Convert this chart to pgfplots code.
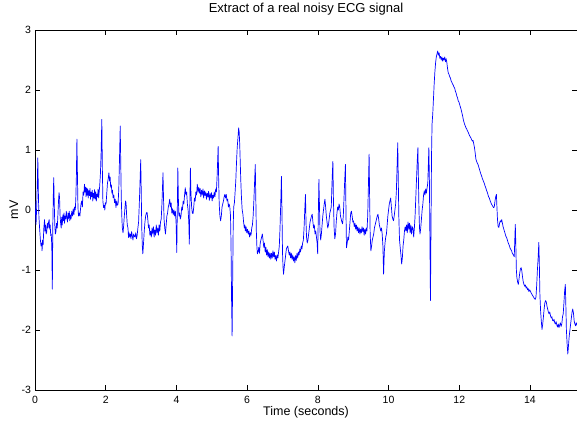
\documentclass[border=0pt]{standalone}
\usepackage{pgfplots}
\usepackage{pgfplotstable}
\pgfplotsset{compat=1.18}
\usepackage{fontspec}
\setmainfont{Liberation Sans}
\pgfplotstableread{
t y
0.000 0.15
0.015 -0.05
0.030 -0.24
0.050 0.10
0.065 0.45
0.080 0.87
0.095 0.30
0.110 -0.10
0.130 -0.30
0.150 -0.48
0.170 -0.60
0.190 -0.55
0.200 -0.68
0.215 -0.50
0.230 -0.58
0.250 -0.30
0.270 -0.16
0.285 -0.35
0.300 -0.25
0.315 -0.40
0.330 -0.37
0.350 -0.22
0.370 -0.30
0.385 -0.20
0.400 -0.16
0.415 -0.32
0.430 -0.25
0.445 -0.43
0.460 -0.40
0.475 -0.60
0.490 -1.32
0.505 -0.20
0.520 0.30
0.530 0.54
0.545 0.10
0.560 -0.25
0.575 -0.40
0.590 -0.37
0.610 -0.22
0.630 -0.30
0.650 -0.05
0.665 0.15
0.680 0.29
0.695 0.20
0.710 -0.10
0.725 -0.22
0.740 -0.30
0.755 -0.12
0.770 -0.25
0.790 -0.08
0.805 -0.18
0.820 -0.05
0.835 -0.22
0.850 -0.10
0.870 -0.15
0.885 -0.02
0.900 -0.12
0.920 -0.20
0.935 -0.05
0.950 -0.14
0.970 -0.02
0.985 -0.18
1.000 -0.08
1.020 -0.15
1.040 -0.02
1.060 -0.10
1.080 0.02
1.100 -0.08
1.120 0.05
1.140 0.00
1.155 0.20
1.170 0.55
1.185 1.18
1.200 0.60
1.215 0.05
1.230 -0.10
1.250 -0.05
1.270 -0.10
1.285 0.00
1.300 0.10
1.320 0.15
1.340 0.05
1.360 0.30
1.380 0.25
1.400 0.43
1.415 0.30
1.430 0.38
1.445 0.22
1.460 0.37
1.475 0.25
1.490 0.35
1.505 0.20
1.520 0.32
1.540 0.24
1.555 0.36
1.570 0.18
1.585 0.30
1.600 0.22
1.620 0.33
1.635 0.15
1.650 0.28
1.670 0.20
1.685 0.34
1.700 0.18
1.720 0.30
1.735 0.15
1.750 0.26
1.770 0.22
1.785 0.35
1.800 0.20
1.815 0.30
1.830 0.40
1.850 0.60
1.870 0.95
1.890 1.51
1.905 0.70
1.920 0.15
1.940 0.04
1.960 0.08
1.975 0.00
1.990 0.12
2.010 0.10
2.030 0.28
2.050 0.45
2.070 0.52
2.090 0.62
2.110 0.48
2.125 0.55
2.140 0.38
2.160 0.42
2.175 0.28
2.190 0.33
2.210 0.20
2.230 0.25
2.250 0.12
2.270 0.18
2.290 0.04
2.310 0.15
2.330 0.08
2.350 0.10
2.370 0.35
2.390 0.85
2.410 1.40
2.425 0.80
2.440 0.20
2.455 -0.10
2.470 -0.30
2.490 -0.38
2.505 -0.28
2.520 -0.15
2.540 0.00
2.560 0.15
2.575 0.12
2.590 -0.07
2.610 -0.25
2.630 -0.30
2.645 -0.46
2.660 -0.38
2.680 -0.45
2.700 -0.40
2.715 -0.48
2.730 -0.36
2.750 -0.42
2.770 -0.50
2.790 -0.40
2.810 -0.44
2.830 -0.45
2.850 -0.38
2.870 -0.48
2.890 -0.42
2.910 -0.30
2.930 -0.20
2.950 0.10
2.970 0.45
2.990 0.84
3.005 0.30
3.020 -0.30
3.035 -0.60
3.050 -0.73
3.070 -0.55
3.090 -0.35
3.110 -0.20
3.130 -0.10
3.150 -0.05
3.170 -0.04
3.190 -0.15
3.210 -0.30
3.230 -0.25
3.250 -0.42
3.270 -0.35
3.290 -0.45
3.310 -0.30
3.330 -0.40
3.350 -0.28
3.370 -0.45
3.390 -0.33
3.410 -0.42
3.430 -0.25
3.450 -0.38
3.470 -0.30
3.490 -0.42
3.510 -0.25
3.530 -0.35
3.550 -0.20
3.570 -0.15
3.590 0.10
3.605 0.35
3.620 0.62
3.635 0.20
3.650 -0.15
3.670 -0.30
3.690 -0.40
3.710 -0.25
3.730 -0.10
3.750 -0.05
3.770 0.05
3.790 0.10
3.810 0.18
3.830 0.05
3.850 0.12
3.870 -0.05
3.890 0.02
3.910 -0.08
3.930 0.00
3.950 -0.10
3.970 -0.02
3.990 -0.20
4.010 -0.71
4.025 0.00
4.040 0.70
4.055 0.20
4.070 -0.10
4.090 -0.05
4.110 -0.15
4.130 -0.10
4.150 0.05
4.170 0.00
4.190 0.15
4.210 0.10
4.230 0.25
4.250 0.37
4.270 0.25
4.290 0.30
4.310 0.10
4.330 0.00
4.350 -0.20
4.365 -0.57
4.380 0.10
4.395 0.70
4.410 0.30
4.430 0.05
4.450 -0.05
4.470 -0.06
4.490 0.05
4.510 0.20
4.530 0.15
4.550 0.30
4.570 0.25
4.590 0.43
4.610 0.30
4.630 0.38
4.650 0.28
4.670 0.36
4.690 0.22
4.710 0.33
4.730 0.25
4.750 0.35
4.770 0.20
4.790 0.32
4.810 0.24
4.830 0.30
4.850 0.18
4.870 0.28
4.890 0.22
4.910 0.31
4.930 0.16
4.950 0.27
4.970 0.20
4.990 0.29
5.010 0.15
5.030 0.25
5.050 0.20
5.070 0.30
5.090 0.22
5.110 0.35
5.130 0.30
5.150 0.55
5.165 0.80
5.180 1.06
5.195 0.50
5.210 0.10
5.230 -0.10
5.250 -0.18
5.270 -0.10
5.290 0.05
5.310 0.10
5.330 0.15
5.350 0.22
5.370 0.26
5.390 0.20
5.410 0.26
5.430 0.15
5.450 0.18
5.470 0.05
5.490 0.10
5.510 0.05
5.530 -0.10
5.545 -0.60
5.560 -1.50
5.575 -2.10
5.590 -1.20
5.605 -0.30
5.620 0.05
5.640 0.12
5.660 0.30
5.680 0.50
5.700 0.80
5.720 1.05
5.740 1.20
5.760 1.37
5.775 1.30
5.790 1.10
5.805 0.80
5.820 0.50
5.840 0.20
5.860 0.00
5.880 -0.07
5.900 -0.20
5.920 -0.30
5.935 -0.25
5.950 -0.35
5.970 -0.28
5.990 -0.38
6.010 -0.32
6.030 -0.40
6.050 -0.35
6.070 -0.45
6.090 -0.38
6.110 -0.42
6.130 -0.30
6.150 -0.25
6.170 -0.10
6.190 0.15
6.210 0.45
6.230 0.76
6.245 0.20
6.260 -0.35
6.275 -0.60
6.290 -0.73
6.310 -0.70
6.330 -0.62
6.350 -0.72
6.370 -0.55
6.390 -0.50
6.410 -0.45
6.430 -0.40
6.450 -0.50
6.470 -0.62
6.490 -0.55
6.510 -0.70
6.530 -0.62
6.550 -0.75
6.570 -0.66
6.590 -0.78
6.610 -0.70
6.630 -0.80
6.650 -0.72
6.670 -0.82
6.690 -0.72
6.710 -0.80
6.730 -0.68
6.750 -0.78
6.770 -0.70
6.790 -0.82
6.810 -0.76
6.830 -0.85
6.850 -0.75
6.870 -0.80
6.890 -0.70
6.910 -0.60
6.930 -0.30
6.950 0.10
6.970 0.56
6.985 0.00
7.000 -0.70
7.015 -0.95
7.030 -1.07
7.050 -0.95
7.070 -0.85
7.090 -0.75
7.110 -0.65
7.130 -0.62
7.150 -0.60
7.170 -0.68
7.190 -0.75
7.210 -0.70
7.230 -0.80
7.250 -0.72
7.270 -0.82
7.290 -0.75
7.310 -0.85
7.330 -0.78
7.350 -0.88
7.370 -0.76
7.390 -0.84
7.410 -0.72
7.430 -0.80
7.450 -0.70
7.470 -0.75
7.490 -0.65
7.510 -0.70
7.530 -0.60
7.550 -0.65
7.570 -0.55
7.590 -0.50
7.610 -0.30
7.630 0.00
7.650 0.26
7.665 -0.20
7.680 -0.45
7.700 -0.55
7.720 -0.50
7.740 -0.40
7.760 -0.30
7.780 -0.20
7.800 -0.15
7.820 -0.10
7.840 -0.07
7.860 -0.20
7.880 -0.30
7.900 -0.25
7.920 -0.40
7.940 -0.35
7.960 -0.45
7.980 -0.55
7.995 -0.73
8.010 -0.20
8.030 0.51
8.045 0.10
8.060 -0.35
8.080 -0.50
8.100 -0.40
8.120 -0.25
8.140 -0.10
8.160 0.00
8.180 0.10
8.200 0.18
8.220 0.05
8.240 -0.10
8.260 -0.20
8.280 -0.30
8.300 -0.25
8.320 -0.15
8.340 -0.05
8.360 0.00
8.380 0.05
8.395 0.35
8.410 0.60
8.425 0.81
8.440 0.20
8.460 -0.30
8.480 -0.48
8.500 -0.40
8.520 -0.20
8.540 -0.05
8.560 0.05
8.580 0.00
8.600 0.10
8.620 0.05
8.640 -0.10
8.660 -0.15
8.680 -0.20
8.700 -0.23
8.720 -0.10
8.740 0.20
8.760 0.50
8.780 0.76
8.795 0.00
8.810 -0.63
8.830 -0.55
8.850 -0.45
8.870 -0.50
8.890 -0.35
8.910 -0.20
8.930 -0.05
8.950 -0.02
8.970 -0.10
8.990 -0.20
9.010 -0.18
9.030 -0.28
9.050 -0.22
9.070 -0.32
9.090 -0.25
9.110 -0.35
9.130 -0.28
9.150 -0.38
9.170 -0.30
9.190 -0.40
9.210 -0.32
9.230 -0.38
9.250 -0.28
9.270 -0.36
9.290 -0.30
9.310 -0.42
9.330 -0.32
9.350 -0.40
9.370 -0.30
9.390 -0.35
9.410 -0.10
9.430 0.40
9.450 0.93
9.465 0.20
9.480 -0.40
9.500 -0.68
9.520 -0.60
9.540 -0.50
9.560 -0.45
9.580 -0.40
9.600 -0.30
9.620 -0.25
9.640 -0.20
9.660 -0.15
9.680 -0.10
9.700 -0.07
9.720 -0.15
9.740 -0.25
9.760 -0.30
9.780 -0.35
9.800 -0.30
9.820 -0.40
9.840 -0.60
9.860 -1.07
9.880 -0.70
9.900 -0.55
9.920 -0.45
9.940 -0.40
9.960 -0.25
9.980 -0.10
10.000 0.00
10.020 0.10
10.040 0.15
10.060 0.20
10.080 0.05
10.100 -0.10
10.120 -0.15
10.140 -0.18
10.160 -0.10
10.180 0.00
10.200 0.10
10.220 0.30
10.240 0.70
10.260 1.12
10.275 0.50
10.290 -0.10
10.310 -0.50
10.330 -0.63
10.350 -0.75
10.370 -0.90
10.390 -0.80
10.410 -0.60
10.430 -0.50
10.450 -0.35
10.470 -0.28
10.490 -0.35
10.510 -0.25
10.530 -0.38
10.550 -0.20
10.570 -0.32
10.590 -0.22
10.610 -0.38
10.630 -0.25
10.650 -0.40
10.670 -0.28
10.690 -0.30
10.710 -0.45
10.730 -0.30
10.750 -0.10
10.770 0.20
10.790 0.50
10.810 0.80
10.830 1.04
10.845 0.50
10.860 0.00
10.875 -0.30
10.890 -0.40
10.910 -0.30
10.930 -0.15
10.950 0.00
10.970 0.10
10.990 0.25
11.010 0.32
11.030 0.25
11.050 0.35
11.070 0.28
11.090 0.37
11.110 0.45
11.125 0.75
11.140 1.04
11.155 0.50
11.170 -0.50
11.185 -1.51
11.200 -0.30
11.215 0.90
11.230 1.43
11.250 1.60
11.270 1.85
11.290 2.10
11.310 2.30
11.330 2.45
11.350 2.55
11.370 2.60
11.390 2.65
11.410 2.58
11.430 2.62
11.450 2.53
11.470 2.56
11.490 2.50
11.510 2.55
11.530 2.48
11.550 2.53
11.570 2.50
11.590 2.55
11.610 2.47
11.630 2.52
11.650 2.45
11.670 2.35
11.690 2.28
11.710 2.26
11.730 2.22
11.750 2.20
11.770 2.15
11.790 2.13
11.810 2.10
11.830 2.08
11.850 2.05
11.870 2.03
11.890 1.98
11.910 1.95
11.930 1.90
11.950 1.87
11.970 1.82
11.990 1.80
12.010 1.76
12.030 1.72
12.050 1.68
12.070 1.63
12.090 1.58
12.110 1.52
12.130 1.47
12.150 1.43
12.170 1.40
12.190 1.37
12.210 1.35
12.230 1.32
12.250 1.30
12.270 1.27
12.290 1.24
12.310 1.22
12.330 1.20
12.350 1.17
12.370 1.15
12.390 1.16
12.410 1.10
12.430 1.04
12.450 0.95
12.470 0.85
12.490 0.81
12.510 0.78
12.530 0.76
12.550 0.72
12.570 0.68
12.590 0.64
12.610 0.60
12.630 0.57
12.650 0.53
12.670 0.50
12.690 0.47
12.710 0.44
12.730 0.40
12.750 0.37
12.770 0.33
12.790 0.30
12.810 0.26
12.830 0.22
12.850 0.20
12.870 0.16
12.890 0.13
12.910 0.10
12.930 0.08
12.950 0.06
12.970 0.04
12.990 0.05
13.010 0.15
13.030 0.22
13.050 0.26
13.065 0.05
13.080 -0.15
13.100 -0.28
13.120 -0.29
13.140 -0.22
13.160 -0.18
13.180 -0.20
13.200 -0.16
13.220 -0.22
13.240 -0.28
13.260 -0.32
13.280 -0.36
13.300 -0.40
13.320 -0.44
13.340 -0.46
13.360 -0.50
13.380 -0.54
13.400 -0.57
13.420 -0.60
13.440 -0.64
13.460 -0.66
13.480 -0.68
13.500 -0.72
13.520 -0.74
13.540 -0.76
13.555 -0.78
13.570 -0.50
13.585 -0.24
13.600 -0.60
13.615 -1.00
13.630 -1.13
13.650 -1.20
13.670 -1.24
13.690 -1.15
13.710 -1.05
13.730 -0.98
13.750 -0.96
13.770 -1.02
13.790 -1.12
13.810 -1.20
13.830 -1.24
13.850 -1.27
13.870 -1.25
13.890 -1.30
13.910 -1.28
13.930 -1.33
13.950 -1.31
13.970 -1.36
13.990 -1.33
14.010 -1.35
14.030 -1.38
14.050 -1.40
14.070 -1.42
14.090 -1.44
14.110 -1.46
14.130 -1.48
14.150 -1.49
14.170 -1.45
14.190 -1.25
14.210 -1.00
14.230 -0.80
14.250 -0.54
14.265 -0.90
14.280 -1.40
14.300 -1.68
14.320 -1.85
14.340 -1.99
14.360 -1.90
14.380 -1.78
14.400 -1.65
14.420 -1.55
14.440 -1.51
14.460 -1.53
14.480 -1.60
14.500 -1.65
14.520 -1.70
14.540 -1.73
14.560 -1.70
14.580 -1.76
14.600 -1.80
14.620 -1.78
14.640 -1.84
14.660 -1.85
14.680 -1.82
14.700 -1.88
14.720 -1.90
14.740 -1.86
14.760 -1.92
14.780 -1.95
14.800 -1.90
14.820 -1.96
14.840 -1.92
14.860 -1.88
14.880 -1.94
14.900 -1.90
14.920 -1.78
14.940 -1.73
14.960 -1.55
14.980 -1.35
15.000 -1.24
15.015 -1.60
15.030 -2.00
15.050 -2.23
15.070 -2.40
15.090 -2.25
15.110 -2.10
15.130 -2.00
15.150 -1.90
15.170 -1.80
15.190 -1.70
15.210 -1.65
15.230 -1.72
15.250 -1.85
15.270 -1.90
15.290 -1.93
15.310 -1.88
15.330 -1.92
}\ecg
\begin{document}
\begin{tikzpicture}
\begin{axis}[
  name=ax,
  scale only axis,
  width=542pt, height=360pt,
  xmin=0, xmax=15.33, ymin=-3, ymax=3,
  xtick={0,2,4,6,8,10,12,14},
  xticklabels={0,2,4,6,8,10,12,14},
  ytick={-3,-2,-1,0,1,2,3},
  yticklabels={-3,-2,-1,0,1,2,3},
  tick align=inside,
  major tick length=5pt,
  tick style={black, line width=0.5pt},
  axis line style={black, line width=0.5pt},
  ticklabel style={font=\fontsize{10.5}{12}\selectfont},
  xticklabel style={anchor=base, yshift=-13pt},
  yticklabel style={anchor=east, xshift=-0.5pt},
  title={Extract of a real noisy ECG signal},
  title style={at={(0.5,1)}, anchor=base, yshift=12pt, font=\fontsize{13}{15}\selectfont},
  xlabel={Time (seconds)},
  xlabel style={at={(0.5,0)}, anchor=base, yshift=-25pt, font=\fontsize{12.5}{14}\selectfont},
  ylabel={mV},
  ylabel style={at={(axis description cs:-0.031,0.5)}, anchor=base, font=\fontsize{12.5}{14}\selectfont},
]
\addplot[color=blue, line width=0.7pt, line join=round] table[x=t, y=y] {\ecg};
\end{axis}
\pgfresetboundingbox
\useasboundingbox ([xshift=-35pt,yshift=-30pt]ax.south west) rectangle ([yshift=30pt]ax.north east);
\end{tikzpicture}
\end{document}
